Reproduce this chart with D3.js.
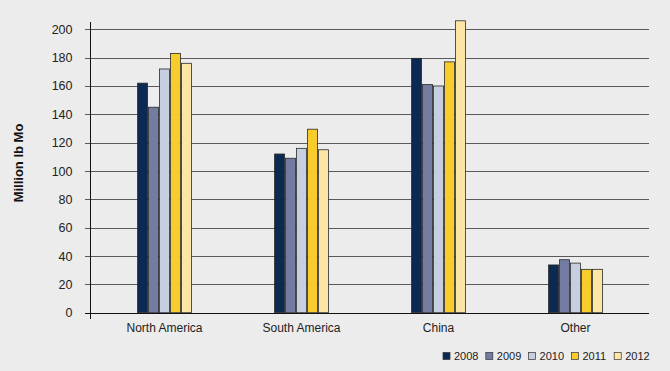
<!DOCTYPE html>
<html><head><meta charset="utf-8">
<script src="https://cdn.jsdelivr.net/npm/d3@7"></script>
<style>body{margin:0;background:#ececec;}svg{display:block;font-family:Arial,"Liberation Sans",sans-serif;}</style>
</head><body><svg id="c" width="670" height="371"></svg>
<script>
const categories = ["North America","South America","China","Other"];
const years = ["2008","2009","2010","2011","2012"];
const v2008 = [162,112,179.5,33.7];
const v2009 = [145,109,161,37.4];
const v2010 = [172,116,160,35];
const v2011 = [183,129.5,177,30.6];
const v2012 = [176,115,206,30.6];
const yTicks = [0,20,40,60,80,100,120,140,160,180,200];
const colors = ["#0c2952","#747ba1","#c6cee0","#f8cc2b","#fde5a6"];

const series = [v2008,v2009,v2010,v2011,v2012];
const svg = d3.select("#c");
svg.append("rect").attr("width",670).attr("height",371).attr("fill","#ececec");

const y = d3.scaleLinear().domain([0,200]).range([312.7,29.3]);
const x0 = d3.scaleBand().domain(categories).range([96,644]).paddingInner(0.6).paddingOuter(0.3);
const x1 = d3.scaleBand().domain(years).range([0,x0.bandwidth()]).padding(0);

// gridlines
svg.append("g").selectAll("line").data(yTicks).join("line")
  .attr("x1",85).attr("x2",649)
  .attr("y1",d=>Math.round(y(d))+0.5).attr("y2",d=>Math.round(y(d))+0.5)
  .attr("stroke",d=>d===0?"#111":"#5a5a5a").attr("stroke-width",1);

// y axis
const yAxis = d3.axisLeft(y).tickValues(yTicks).tickSize(0).tickPadding(18);
const ga = svg.append("g").attr("transform","translate(90.5,0)").call(yAxis);
ga.select(".domain").remove();
ga.selectAll("text").attr("font-size","12.5px").attr("fill","#222").attr("font-family","Arial,'Liberation Sans',sans-serif");
svg.append("line").attr("x1",90.5).attr("x2",90.5).attr("y1",22).attr("y2",319).attr("stroke","#111");

// bars
const groups = svg.append("g").selectAll("g").data(categories).join("g")
  .attr("transform",d=>`translate(${x0(d)},0)`);
groups.selectAll("rect").data((d,i)=>years.map((yr,j)=>({yr,v:series[j][i],j}))).join("rect")
  .attr("x",d=>x1(d.yr)+0.5).attr("width",x1.bandwidth()-1)
  .attr("y",d=>y(d.v)).attr("height",d=>y(0)-y(d.v))
  .attr("fill",d=>colors[d.j]).attr("stroke","#2a2a2a").attr("stroke-width",0.8);

// x axis
const xAxis = d3.axisBottom(x0).tickSize(0).tickPadding(10);
const gx = svg.append("g").attr("transform","translate(0,313)").call(xAxis);
gx.select(".domain").remove();
gx.selectAll("text").attr("font-size","12px").attr("fill","#222").attr("font-family","Arial,'Liberation Sans',sans-serif");

// y label
svg.append("text").attr("transform","translate(22.5,163) rotate(-90)").attr("text-anchor","middle")
  .attr("font-size","13px").attr("font-weight","bold").attr("fill","#111").text("Million lb Mo");

// legend
const lg = svg.append("g").selectAll("g").data(years).join("g")
  .attr("transform",(d,i)=>`translate(${443+i*42.8},352.5)`);
lg.append("rect").attr("width",7).attr("height",7).attr("fill",(d,i)=>colors[i]).attr("stroke","#333").attr("stroke-width",0.7);
lg.append("text").attr("x",11).attr("y",7).attr("font-size","11px").attr("fill","#222").text(d=>d);
</script></body></html>
